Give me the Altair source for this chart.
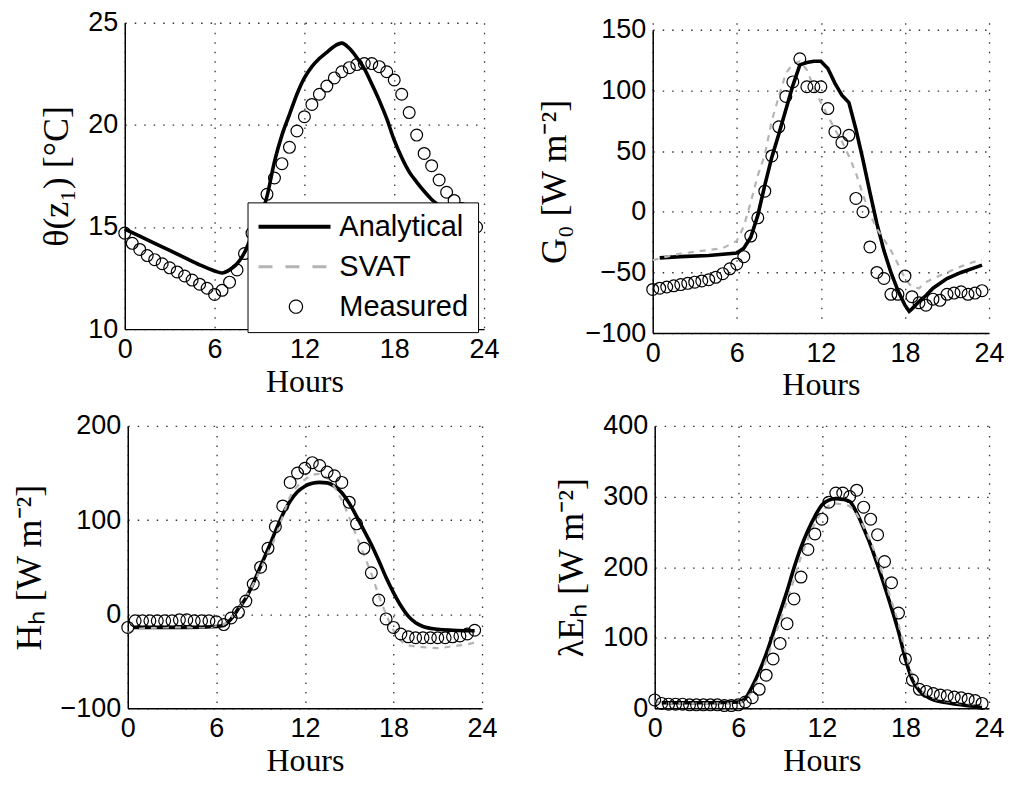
import altair as alt
import pandas as pd

SERIES = ["Analytical", "SVAT", "Measured"]
X_TICKS = [0, 6, 12, 18, 24]

MEAS_HOURS = [0.0, 0.5, 1.0, 1.5, 2.0, 2.5, 3.0, 3.5, 4.0, 4.5, 5.0, 5.5,
              6.0, 6.5, 7.0, 7.5, 8.0, 8.5, 9.0, 9.5, 10.0, 10.5, 11.0, 11.5,
              12.0, 12.5, 13.0, 13.5, 14.0, 14.5, 15.0, 15.5, 16.0, 16.5, 17.0, 17.5,
              18.0, 18.5, 19.0, 19.5, 20.0, 20.5, 21.0, 21.5, 22.0, 22.5, 23.0, 23.5]

# Panel 1: soil temperature theta(z1)
P1_MEAS = [14.7, 14.2, 13.9, 13.6, 13.4, 13.2, 13.0, 12.8, 12.6, 12.4, 12.2, 12.0,
           11.7, 11.9, 12.3, 12.9, 13.7, 14.7, 15.7, 16.6, 17.4, 18.1, 18.9, 19.7,
           20.4, 21.0, 21.5, 21.9, 22.3, 22.6, 22.8, 22.95, 23.0, 23.0, 22.85, 22.6,
           22.2, 21.5, 20.6, 19.5, 18.6, 18.0, 17.3, 16.7, 16.3, 15.9, 15.4, 15.0]
P1_AN_HOURS = [0, 1, 2, 3, 4, 5, 6, 6.5, 7, 7.5, 8, 8.5, 9, 9.5, 10, 10.5, 11, 11.5,
               12, 12.5, 13, 13.5, 14, 14.5, 15, 15.5, 16, 16.5, 17, 17.5, 18, 18.5,
               19, 19.5, 20, 20.5, 21, 21.5, 22, 22.5, 23, 23.5]
P1_AN = [14.9, 14.55, 14.2, 13.85, 13.5, 13.15, 12.85, 12.75, 12.9, 13.2, 13.75, 14.6,
         15.4, 16.5, 18.2, 19.5, 20.5, 21.5, 22.3, 22.85, 23.25, 23.55, 23.85, 24.0,
         23.75, 23.3, 22.75, 22.0, 21.2, 20.3, 19.25, 18.4, 17.7, 17.2, 16.75, 16.35,
         16.05, 15.8, 15.6, 15.45, 15.3, 15.15]

# Panel 2: ground heat flux G0
P2_MEAS = [-64, -63, -62, -61, -60, -59, -58, -57, -56, -54, -51, -47,
           -43, -37, -20, -5, 17, 46, 70, 95, 107, 126, 103, 103,
           103, 85, 66, 57, 63, 11, 0, -29, -50, -55, -68, -68,
           -53, -70, -75, -77, -72, -73, -68, -67, -66, -68, -67, -65]
P2_AN_HOURS = [0.5, 2, 4, 6, 6.5, 7, 7.5, 8, 8.5, 9, 9.5, 10, 10.5, 11, 11.5, 12,
               12.5, 13, 13.5, 14, 14.5, 15, 15.5, 16, 16.5, 17, 17.5, 18, 18.3,
               18.5, 19, 19.5, 20, 21, 22, 23, 23.5]
P2_AN = [-38, -37, -36, -34, -30, -21, -3, 22, 45, 64, 84, 104, 121, 123, 124, 124,
         118, 106, 96, 90, 68, 43, 16, -10, -32, -50, -65, -77, -82,
         -80, -74, -69, -63, -55, -50, -46, -44]
P2_SV_HOURS = [0, 1, 2, 3, 4, 5, 6, 6.5, 7, 7.5, 8, 8.5, 9, 9.5, 10, 10.5, 11, 11.5,
               12, 12.5, 13, 13.5, 14, 14.5, 15, 15.5, 16, 16.5, 17, 17.5, 18, 18.5,
               19, 19.5, 20, 21, 22, 23, 23.5]
P2_SV = [-40, -37, -34.5, -33, -31.5, -30, -24, -12, 8, 30, 47, 75, 95, 114, 122, 124,
         117, 102, 90, 79, 68, 58, 46, 32, 14, -2, -14, -23, -32, -43, -55, -62,
         -63, -58, -55, -50, -45, -41, -40]

# Panel 3: sensible heat flux Hh
P3_MEAS = [-14, -7, -7, -7, -7, -7, -7, -6, -6, -7, -7, -7,
           -8, -11, -4, 2, 14, 32, 50, 70, 93, 115, 140, 150,
           155, 161, 158, 151, 147, 140, 119, 96, 70, 44, 15, -5,
           -14, -21, -24, -25, -25, -25, -25, -25, -24, -23, -21, -17]
P3_AN_HOURS = [0.4, 2, 4, 6, 6.5, 7, 7.5, 8, 8.5, 9, 9.5, 10, 10.5, 11, 11.5, 12,
               12.5, 13, 13.5, 14, 14.5, 15, 15.5, 16, 16.5, 17, 17.5, 18, 18.5, 19,
               19.5, 20, 21, 22, 23, 23.5]
P3_AN = [-14, -14, -14, -13, -12, -5, 6, 17, 33, 51, 69, 88, 106, 120, 130, 136,
         139, 140, 139.5, 136, 129, 118, 104, 89, 74, 57, 39, 23, 9, -2,
         -9, -13, -16, -17, -17.5, -17.5]
P3_SV_HOURS = [0, 1, 3, 5, 6, 6.5, 7, 7.5, 8, 8.5, 9, 9.5, 10, 10.5, 11, 11.5, 12,
               12.5, 13, 13.5, 14, 14.5, 15, 15.5, 16, 16.5, 17, 17.5, 18, 18.5, 19,
               20, 21, 22, 23, 23.5]
P3_SV = [-20, -15, -14, -14, -13, -11, -4, 6, 18, 32, 48, 65, 82, 104, 125, 136, 143,
         148, 149, 145, 135, 121, 103, 83, 63, 43, 20, 0, -17, -28, -33,
         -35, -36, -34, -32, -30]

# Panel 4: latent heat flux lambda Eh
P4_MEAS = [12, 7, 6, 6, 6, 5, 5, 5, 5, 5, 4, 4,
           5, 9, 15, 27, 47, 70, 92, 120, 155, 186, 225, 247,
           268, 292, 305, 305, 300, 309, 285, 268, 246, 208, 178, 135,
           70, 40, 27, 24, 21, 19, 18, 16, 15, 13, 11, 7]
P4_AN_HOURS = [0.5, 2, 4, 6, 6.5, 7, 7.5, 8, 8.5, 9, 9.5, 10, 10.5, 11, 11.5, 12,
               12.5, 13, 13.5, 14, 14.5, 15, 15.5, 16, 16.5, 17, 17.5, 18, 18.5, 19,
               19.5, 20, 21, 22, 23, 23.5]
P4_AN = [8, 8, 8, 9, 14, 31, 52, 77, 106, 136, 166, 199, 228, 252, 272, 288,
         295, 297, 296, 293, 277, 255, 231, 203, 173, 142, 109, 70, 40, 25,
         17, 12, 8, 5, 3, 3]
P4_SV_HOURS = [0, 1, 3, 5, 6, 6.5, 7, 7.5, 8, 8.5, 9, 9.5, 10, 10.5, 11, 11.5, 12,
               12.5, 13, 13.5, 14, 14.5, 15, 15.5, 16, 16.5, 17, 17.5, 18, 18.5, 19,
               19.5, 20, 21, 22, 23, 23.5]
P4_SV = [10, 7, 7, 7, 8, 12, 25, 45, 68, 95, 124, 152, 183, 214, 240, 262, 278,
         287, 290, 289, 286, 275, 257, 236, 210, 182, 152, 120, 80, 46, 28,
         19, 14, 10, 7, 5, 5]

LABEL_FONT = "Liberation Sans"
TITLE_FONT = "Liberation Serif"
SVAT_GRAY = "#b4b4b4"

# legend symbol styles (one per series)
LEG_SHAPES = ["M-2.2,0H9.58", "M-2.2,0H9.58",
              "M5.0,0A1.08,1.08,0,1,1,2.84,0A1.08,1.08,0,1,1,5.0,0Z"]
LEG_COLORS = ["black", SVAT_GRAY, "black"]
LEG_DASHES = [[1, 0], [14, 13], [1, 0]]
LEG_WIDTHS = [4, 3, 1.2]


def frame(hours, values, name):
    return pd.DataFrame({"hour": hours, "value": values, "series": name})


def panel(meas, an_h, an, sv_h, sv, ydom, yticks, ytitle, w, h,
          xrange=None, yrange=None, yoffset=0, legend=None, interp="monotone"):
    xs = alt.Scale(domain=[0, 24], nice=False, zero=False, range=xrange) if xrange \
        else alt.Scale(domain=[0, 24], nice=False, zero=False)
    ys = alt.Scale(domain=ydom, nice=False, zero=False, range=yrange) if yrange \
        else alt.Scale(domain=ydom, nice=False, zero=False)
    x = alt.X("hour:Q", scale=xs,
              axis=alt.Axis(values=X_TICKS, title="Hours", labelFlush=False))
    y = alt.Y("value:Q", scale=ys,
              axis=alt.Axis(values=yticks, title=ytitle, offset=yoffset, labelFlush=False))

    layers = [
        alt.Chart(frame(an_h, an, "Analytical"))
        .mark_line(color="black", strokeWidth=3.6, interpolate=interp)
        .encode(x=x, y=y)
    ]
    if sv_h:
        layers.append(
            alt.Chart(frame(sv_h, sv, "SVAT"))
            .mark_line(color=SVAT_GRAY, strokeWidth=2.2, strokeDash=[6, 6],
                       interpolate=interp)
            .encode(x=x, y=y)
        )
    layers.append(
        alt.Chart(frame(MEAS_HOURS, meas, "Measured"))
        .mark_point(shape="circle", filled=False, size=140, color="black",
                    strokeWidth=1.2, opacity=1)
        .encode(x=x, y=y)
    )
    if legend is not None:
        # legend-only layer: no rows are drawn, it only carries the key
        layers.append(
            alt.Chart(pd.DataFrame({"series": SERIES}))
            .transform_filter("false")
            .mark_point(filled=False, opacity=1)
            .encode(
                color=alt.Color("series:N", legend=legend,
                                scale=alt.Scale(domain=SERIES, range=LEG_COLORS)),
                shape=alt.Shape("series:N", legend=legend,
                                scale=alt.Scale(domain=SERIES, range=LEG_SHAPES)),
                strokeDash=alt.StrokeDash("series:N", legend=legend,
                                          scale=alt.Scale(domain=SERIES, range=LEG_DASHES)),
                strokeWidth=alt.StrokeWidth("series:N", legend=legend,
                                            scale=alt.Scale(type="ordinal", domain=SERIES,
                                                            range=LEG_WIDTHS)),
            )
        )
    return alt.layer(*layers).properties(width=w, height=h)


legend_p1 = alt.Legend(
    orient="none", legendX=123, legendY=180, title=None,
    fillColor="white", strokeColor="black", padding=10,
    labelFont=LABEL_FONT, labelFontSize=29, labelColor="black",
    symbolSize=150, labelOffset=53, rowPadding=10, symbolOpacity=1,
)

p1 = panel(P1_MEAS, P1_AN_HOURS, P1_AN, [], [], [10, 25], [10, 15, 20, 25],
           "θ(z₁) [°C]", 360, 307, legend=legend_p1)
p2 = panel(P2_MEAS, P2_AN_HOURS, P2_AN, P2_SV_HOURS, P2_SV, [-100, 150],
           [-100, -50, 0, 50, 100, 150], "G₀ [W m⁻²]", 337, 311,
           yrange=[311, 7], interp="linear")
p3 = panel(P3_MEAS, P3_AN_HOURS, P3_AN, P3_SV_HOURS, P3_SV, [-100, 200],
           [-100, 0, 100, 200], "Hₕ [W m⁻²]", 358, 283,
           xrange=[3, 358], yoffset=-3)
p4 = panel(P4_MEAS, P4_AN_HOURS, P4_AN, P4_SV_HOURS, P4_SV, [0, 400],
           [0, 100, 200, 300, 400], "λEₕ [W m⁻²]", 337, 283,
           xrange=[2, 337], yoffset=-2)

chart = (
    alt.concat(p1, p2, p3, p4, columns=2, spacing={"row": 93, "column": 169},
               align="none", bounds="flush", background="white",
               padding={"left": 3, "top": 0, "right": 0, "bottom": 0})
    .resolve_scale(x="independent", y="independent", color="independent",
                   shape="independent", strokeDash="independent",
                   strokeWidth="independent")
    .configure_axis(
        labelFont=LABEL_FONT, labelFontSize=27, labelColor="black",
        titleFont=TITLE_FONT, titleFontWeight="normal",
        titleColor="black", domainColor="black", domainWidth=1.5, ticks=False,
        gridColor="#333333", gridDash=[1.5, 8], gridWidth=1.3, gridOpacity=1,
        labelPadding=7,
    )
    .configure_axisX(labelPadding=7, titlePadding=4, titleFontSize=32)
    .configure_axisY(titlePadding=12, titleFontSize=36)
    .configure_view(strokeWidth=0)
)

chart.save("out.html", embed_options={"renderer": "svg", "actions": False})
